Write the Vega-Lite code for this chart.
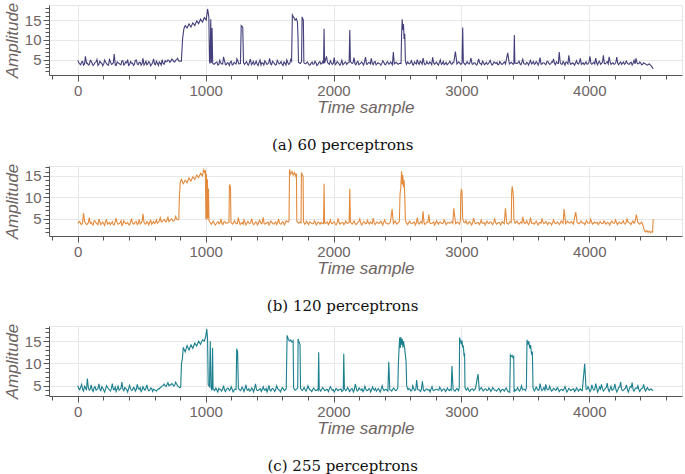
{
"$schema": "https://vega.github.io/schema/vega-lite/v6.json",
"padding": {"left": 2, "top": 0, "right": 1, "bottom": 0},
"spacing": 5,
"config": {
 "view": {"stroke": "#e6e6e6", "strokeWidth": 1},
 "axis": {"labelFont": "Liberation Sans", "labelFontSize": 15, "labelColor": "#6e6464", "titleFont": "Liberation Sans", "titleFontStyle": "italic", "titleFontWeight": "normal", "titleColor": "#6e6464", "domainColor": "#555555", "tickColor": "#555555", "gridColor": "#e8e8e8", "labelPadding": 2, "labelOverlap": false, "labelFlush": false, "domainWidth": 1, "tickWidth": 1},
 "axisX": {"titleFontSize": 17, "titlePadding": 1},
 "axisY": {"titleFontSize": 17, "titlePadding": 3},
 "title": {"orient": "bottom", "font": "DejaVu Serif", "fontSize": 15, "fontWeight": "normal", "color": "#111111", "offset": 23, "anchor": "middle", "frame": "bounds"}
},
"datasets": {
"a": [
{"t":0,"v":4.8},{"t":15,"v":3.9},{"t":30,"v":4.4},{"t":45,"v":3.6},{"t":60,"v":5.8},{"t":75,"v":4.1},{"t":90,"v":3.7},{"t":105,"v":4.6},{"t":120,"v":3.5},{"t":135,"v":4.3},
{"t":150,"v":5.0},{"t":165,"v":3.8},{"t":180,"v":4.2},{"t":195,"v":3.4},{"t":210,"v":4.9},{"t":225,"v":4.0},{"t":240,"v":3.6},{"t":255,"v":4.5},{"t":270,"v":3.9},{"t":285,"v":6.4},
{"t":300,"v":3.5},{"t":315,"v":4.2},{"t":330,"v":3.8},{"t":345,"v":4.7},{"t":360,"v":3.6},{"t":375,"v":4.4},{"t":390,"v":5.0},{"t":405,"v":3.7},{"t":420,"v":4.1},{"t":435,"v":3.5},
{"t":450,"v":4.8},{"t":465,"v":3.9},{"t":480,"v":4.3},{"t":495,"v":3.6},{"t":510,"v":5.3},{"t":525,"v":4.0},{"t":540,"v":3.7},{"t":555,"v":4.5},{"t":570,"v":3.4},{"t":585,"v":4.2},
{"t":600,"v":3.9},{"t":615,"v":4.6},{"t":630,"v":3.5},{"t":645,"v":4.1},{"t":660,"v":5.0},{"t":675,"v":3.8},{"t":690,"v":4.4},{"t":705,"v":4.9},{"t":720,"v":4.3},{"t":735,"v":5.1},
{"t":750,"v":4.5},{"t":765,"v":4.8},{"t":780,"v":5.3},{"t":795,"v":4.6},
{"t":810,"v":4.6},{"t":820,"v":10.4},{"t":830,"v":12.8},{"t":840,"v":13.6},{"t":855,"v":13.0},{"t":870,"v":14.0},{"t":885,"v":13.2},{"t":900,"v":14.3},{"t":915,"v":13.6},{"t":930,"v":14.8},{"t":945,"v":14.1},{"t":960,"v":15.2},{"t":975,"v":14.5},{"t":990,"v":15.6},{"t":1005,"v":15.0},{"t":1015,"v":17.8},{"t":1025,"v":15.8},{"t":1030,"v":4.5},{"t":1035,"v":4.0},{"t":1040,"v":15.2},{"t":1045,"v":4.2},{"t":1050,"v":13.0},{"t":1055,"v":4.1},{"t":1065,"v":3.8},
{"t":1080,"v":4.3},{"t":1095,"v":3.6},{"t":1110,"v":4.8},{"t":1125,"v":3.9},{"t":1140,"v":5.7},{"t":1155,"v":3.7},{"t":1170,"v":4.2},{"t":1185,"v":3.5},{"t":1200,"v":4.6},{"t":1215,"v":3.8},{"t":1230,"v":4.1},{"t":1245,"v":5.2},{"t":1260,"v":3.9},
{"t":1272,"v":4.0},{"t":1278,"v":13.6},{"t":1290,"v":13.2},{"t":1296,"v":4.2},
{"t":1305,"v":3.8},{"t":1320,"v":4.5},{"t":1335,"v":3.6},{"t":1350,"v":5.1},{"t":1365,"v":4.0},{"t":1380,"v":3.7},{"t":1395,"v":4.6},{"t":1410,"v":3.5},{"t":1425,"v":4.9},{"t":1440,"v":4.2},{"t":1455,"v":3.6},{"t":1470,"v":4.4},{"t":1485,"v":3.9},{"t":1500,"v":5.3},{"t":1515,"v":3.7},{"t":1530,"v":4.3},{"t":1545,"v":3.6},{"t":1560,"v":4.8},{"t":1575,"v":3.9},{"t":1590,"v":4.5},{"t":1605,"v":3.5},{"t":1620,"v":4.1},{"t":1635,"v":4.9},{"t":1650,"v":3.8},{"t":1665,"v":5.0},
{"t":1672,"v":4.6},{"t":1678,"v":16.3},{"t":1690,"v":15.6},{"t":1700,"v":15.0},{"t":1710,"v":15.3},{"t":1718,"v":14.4},{"t":1722,"v":10.8},{"t":1726,"v":4.3},{"t":1740,"v":4.0},{"t":1750,"v":4.5},{"t":1754,"v":15.8},{"t":1764,"v":15.0},{"t":1768,"v":4.2},{"t":1780,"v":3.9},
{"t":1795,"v":4.4},{"t":1810,"v":3.6},{"t":1825,"v":4.1},{"t":1840,"v":3.8},{"t":1855,"v":4.6},{"t":1870,"v":3.5},{"t":1885,"v":4.2},{"t":1900,"v":3.9},{"t":1915,"v":4.5},
{"t":1922,"v":4.0},{"t":1926,"v":12.8},{"t":1930,"v":4.1},
{"t":1945,"v":5.8},{"t":1960,"v":4.0},{"t":1975,"v":4.7},{"t":1990,"v":3.8},{"t":2005,"v":5.5},{"t":2020,"v":3.9},{"t":2035,"v":4.3},{"t":2050,"v":3.6},{"t":2065,"v":4.8},{"t":2080,"v":3.9},{"t":2095,"v":4.4},{"t":2110,"v":4.1},
{"t":2122,"v":4.3},{"t":2127,"v":12.5},{"t":2132,"v":4.5},
{"t":2145,"v":4.0},{"t":2160,"v":5.5},{"t":2175,"v":3.7},{"t":2190,"v":4.6},{"t":2205,"v":3.9},{"t":2220,"v":4.4},{"t":2235,"v":3.6},{"t":2250,"v":5.6},{"t":2265,"v":3.8},{"t":2280,"v":4.2},{"t":2295,"v":5.3},{"t":2310,"v":3.7},{"t":2325,"v":4.5},{"t":2340,"v":3.9},{"t":2355,"v":4.1},{"t":2370,"v":3.6},{"t":2385,"v":4.7},{"t":2400,"v":3.8},{"t":2415,"v":4.3},{"t":2430,"v":3.9},{"t":2445,"v":4.4},{"t":2460,"v":3.7},
{"t":2468,"v":6.9},{"t":2475,"v":3.9},{"t":2490,"v":4.3},{"t":2505,"v":3.8},{"t":2520,"v":4.1},
{"t":2528,"v":4.0},{"t":2532,"v":11.0},{"t":2537,"v":15.2},{"t":2542,"v":12.5},{"t":2547,"v":14.0},{"t":2552,"v":10.2},{"t":2557,"v":11.5},{"t":2562,"v":4.6},{"t":2570,"v":3.8},
{"t":2580,"v":4.4},{"t":2595,"v":3.9},{"t":2610,"v":4.7},{"t":2625,"v":3.6},{"t":2640,"v":4.1},{"t":2655,"v":5.0},{"t":2670,"v":3.8},{"t":2685,"v":4.3},{"t":2700,"v":5.4},{"t":2715,"v":3.7},{"t":2730,"v":4.5},{"t":2745,"v":3.9},{"t":2760,"v":4.2},{"t":2775,"v":5.6},{"t":2790,"v":3.8},{"t":2805,"v":4.4},{"t":2820,"v":3.6},{"t":2835,"v":4.9},{"t":2850,"v":4.0},{"t":2865,"v":3.7},{"t":2880,"v":4.3},{"t":2895,"v":3.9},{"t":2910,"v":4.6},{"t":2925,"v":3.8},{"t":2940,"v":4.2},
{"t":2953,"v":7.0},{"t":2965,"v":3.9},{"t":2980,"v":4.4},{"t":2995,"v":3.8},
{"t":3005,"v":4.1},{"t":3010,"v":13.1},{"t":3015,"v":4.3},
{"t":3030,"v":3.7},{"t":3045,"v":4.5},{"t":3060,"v":3.9},{"t":3075,"v":5.4},{"t":3090,"v":3.8},{"t":3105,"v":4.2},{"t":3120,"v":3.6},{"t":3135,"v":5.2},{"t":3150,"v":4.0},{"t":3165,"v":4.6},{"t":3180,"v":3.7},{"t":3195,"v":4.3},{"t":3210,"v":3.9},{"t":3225,"v":4.8},{"t":3240,"v":3.6},{"t":3255,"v":4.4},{"t":3270,"v":4.0},{"t":3285,"v":3.7},{"t":3300,"v":4.5},{"t":3315,"v":3.8},{"t":3330,"v":4.2},{"t":3345,"v":3.9},
{"t":3362,"v":6.7},{"t":3375,"v":3.9},{"t":3390,"v":4.3},{"t":3405,"v":3.8},{"t":3410,"v":4.0},{"t":3414,"v":11.2},{"t":3418,"v":4.2},
{"t":3435,"v":4.0},{"t":3450,"v":4.6},{"t":3465,"v":3.7},{"t":3480,"v":5.1},{"t":3495,"v":3.9},{"t":3510,"v":4.3},{"t":3525,"v":3.6},{"t":3540,"v":4.8},{"t":3555,"v":4.1},{"t":3570,"v":3.8},
{"t":3585,"v":4.5},{"t":3600,"v":3.6},{"t":3615,"v":5.5},{"t":3630,"v":3.9},{"t":3645,"v":4.2},{"t":3660,"v":3.7},{"t":3675,"v":4.6},{"t":3690,"v":3.8},{"t":3705,"v":4.4},{"t":3720,"v":5.2},
{"t":3735,"v":3.7},{"t":3750,"v":4.1},{"t":3765,"v":6.9},{"t":3780,"v":3.9},{"t":3795,"v":4.5},{"t":3810,"v":3.6},{"t":3825,"v":4.3},{"t":3840,"v":6.1},{"t":3855,"v":3.8},{"t":3870,"v":4.2},
{"t":3885,"v":3.6},{"t":3900,"v":4.7},{"t":3915,"v":3.9},{"t":3930,"v":5.3},{"t":3945,"v":4.0},{"t":3960,"v":3.7},{"t":3975,"v":4.4},{"t":3990,"v":3.9},{"t":4005,"v":5.8},{"t":4020,"v":3.8},
{"t":4035,"v":4.3},{"t":4050,"v":5.4},{"t":4065,"v":3.7},{"t":4080,"v":4.6},{"t":4095,"v":4.0},{"t":4110,"v":6.1},{"t":4125,"v":3.9},{"t":4140,"v":4.5},{"t":4155,"v":5.7},{"t":4170,"v":3.8},
{"t":4185,"v":4.2},{"t":4200,"v":3.9},{"t":4215,"v":5.6},{"t":4230,"v":3.7},{"t":4245,"v":4.4},{"t":4260,"v":4.1},{"t":4275,"v":3.8},{"t":4290,"v":4.6},{"t":4305,"v":3.9},{"t":4320,"v":4.2},
{"t":4335,"v":3.6},{"t":4350,"v":4.8},{"t":4365,"v":5.3},{"t":4380,"v":3.9},{"t":4395,"v":4.4},{"t":4410,"v":3.7},{"t":4425,"v":4.2},{"t":4440,"v":3.9},{"t":4455,"v":3.6},{"t":4470,"v":3.9},
{"t":4485,"v":3.4},{"t":4500,"v":2.6},
{"t":8,"v":4.2},{"t":23,"v":3.7},{"t":38,"v":4.5},{"t":53,"v":3.9},{"t":68,"v":4.1},{"t":83,"v":3.6},{"t":98,"v":4.8},{"t":113,"v":4.0},{"t":128,"v":3.8},{"t":143,"v":4.4},
{"t":158,"v":3.5},{"t":173,"v":4.6},{"t":188,"v":4.1},{"t":203,"v":3.9},{"t":218,"v":4.3},{"t":233,"v":3.7},{"t":248,"v":5.0},{"t":263,"v":3.8},{"t":278,"v":4.2},{"t":293,"v":3.6},
{"t":308,"v":4.4},{"t":323,"v":4.0},{"t":338,"v":3.7},{"t":353,"v":4.7},{"t":368,"v":3.9},{"t":383,"v":4.2},{"t":398,"v":3.5},{"t":413,"v":4.5},{"t":428,"v":4.1},{"t":443,"v":3.8},
{"t":458,"v":4.9},{"t":473,"v":3.7},{"t":488,"v":4.3},{"t":503,"v":4.0},{"t":518,"v":3.6},{"t":533,"v":4.6},{"t":548,"v":3.9},{"t":563,"v":4.2},{"t":578,"v":3.8},{"t":593,"v":5.2},
{"t":608,"v":3.7},{"t":623,"v":4.1},{"t":638,"v":4.4},{"t":653,"v":3.6},{"t":668,"v":4.0},{"t":683,"v":4.7},{"t":698,"v":4.5},{"t":713,"v":4.8},{"t":728,"v":4.6},{"t":743,"v":4.9},
{"t":758,"v":4.4},{"t":773,"v":5.0},{"t":788,"v":4.7},
{"t":1073,"v":4.0},{"t":1088,"v":4.4},{"t":1103,"v":3.7},{"t":1118,"v":4.2},{"t":1133,"v":3.9},{"t":1148,"v":4.6},{"t":1163,"v":3.8},{"t":1178,"v":4.1},{"t":1193,"v":4.4},{"t":1208,"v":3.6},{"t":1223,"v":4.3},{"t":1238,"v":3.9},{"t":1253,"v":4.5},
{"t":1313,"v":4.2},{"t":1328,"v":3.8},{"t":1343,"v":4.4},{"t":1358,"v":3.7},{"t":1373,"v":4.5},{"t":1388,"v":4.0},{"t":1403,"v":3.9},{"t":1418,"v":4.3},{"t":1433,"v":3.6},{"t":1448,"v":4.1},{"t":1463,"v":4.7},{"t":1478,"v":3.8},{"t":1493,"v":4.2},{"t":1508,"v":3.9},{"t":1523,"v":4.6},{"t":1538,"v":4.0},{"t":1553,"v":3.7},{"t":1568,"v":4.3},{"t":1583,"v":4.1},{"t":1598,"v":3.8},{"t":1613,"v":4.4},{"t":1628,"v":3.6},{"t":1643,"v":4.2},{"t":1658,"v":4.0},
{"t":1788,"v":4.1},{"t":1803,"v":4.0},{"t":1818,"v":3.7},{"t":1833,"v":4.4},{"t":1848,"v":3.9},{"t":1863,"v":4.2},{"t":1878,"v":3.8},{"t":1893,"v":4.5},{"t":1908,"v":4.0},
{"t":1953,"v":4.3},{"t":1968,"v":3.8},{"t":1983,"v":4.2},{"t":1998,"v":4.0},{"t":2013,"v":3.7},{"t":2028,"v":4.5},{"t":2043,"v":3.9},{"t":2058,"v":4.1},{"t":2073,"v":3.7},{"t":2088,"v":4.3},{"t":2103,"v":3.8},
{"t":2153,"v":4.2},{"t":2168,"v":3.9},{"t":2183,"v":4.4},{"t":2198,"v":3.7},{"t":2213,"v":4.1},{"t":2228,"v":4.0},{"t":2243,"v":4.5},{"t":2258,"v":3.8},{"t":2273,"v":4.3},{"t":2288,"v":3.9},{"t":2303,"v":4.0},{"t":2318,"v":4.4},{"t":2333,"v":3.7},{"t":2348,"v":4.2},{"t":2363,"v":3.9},{"t":2378,"v":4.1},{"t":2393,"v":4.3},{"t":2408,"v":3.7},{"t":2423,"v":4.5},{"t":2438,"v":3.9},{"t":2453,"v":4.1},
{"t":2588,"v":4.0},{"t":2603,"v":4.3},{"t":2618,"v":3.8},{"t":2633,"v":4.4},{"t":2648,"v":3.9},{"t":2663,"v":4.1},{"t":2678,"v":4.6},{"t":2693,"v":3.8},{"t":2708,"v":4.2},{"t":2723,"v":3.9},{"t":2738,"v":4.0},{"t":2753,"v":4.4},{"t":2768,"v":3.7},{"t":2783,"v":4.2},{"t":2798,"v":4.1},{"t":2813,"v":3.9},{"t":2828,"v":4.3},{"t":2843,"v":3.8},{"t":2858,"v":4.5},{"t":2873,"v":4.0},{"t":2888,"v":3.7},{"t":2903,"v":4.2},{"t":2918,"v":4.0},{"t":2933,"v":4.3},
{"t":3038,"v":4.1},{"t":3053,"v":4.0},{"t":3068,"v":4.4},{"t":3083,"v":3.9},{"t":3098,"v":4.2},{"t":3113,"v":3.8},{"t":3128,"v":4.3},{"t":3143,"v":4.1},{"t":3158,"v":3.7},{"t":3173,"v":4.2},{"t":3188,"v":4.0},{"t":3203,"v":3.8},{"t":3218,"v":4.4},{"t":3233,"v":4.0},{"t":3248,"v":3.9},{"t":3263,"v":4.2},{"t":3278,"v":4.3},{"t":3293,"v":3.8},{"t":3308,"v":4.1},{"t":3323,"v":3.9},{"t":3338,"v":4.4},
{"t":3443,"v":4.2},{"t":3458,"v":3.9},{"t":3473,"v":4.4},{"t":3488,"v":4.0},{"t":3503,"v":3.8},{"t":3518,"v":4.1},{"t":3533,"v":4.3},{"t":3548,"v":3.9},{"t":3563,"v":4.5},{"t":3578,"v":4.0},
{"t":3593,"v":4.1},{"t":3608,"v":4.3},{"t":3623,"v":3.8},{"t":3638,"v":4.2},{"t":3653,"v":3.9},{"t":3668,"v":4.5},{"t":3683,"v":4.1},{"t":3698,"v":3.9},{"t":3713,"v":4.3},{"t":3728,"v":4.0},
{"t":3743,"v":4.4},{"t":3758,"v":4.0},{"t":3773,"v":4.2},{"t":3788,"v":3.8},{"t":3803,"v":4.1},{"t":3818,"v":4.4},{"t":3833,"v":3.9},{"t":3848,"v":4.3},{"t":3863,"v":4.0},{"t":3878,"v":3.9},
{"t":3893,"v":4.2},{"t":3908,"v":4.0},{"t":3923,"v":4.4},{"t":3938,"v":3.8},{"t":3953,"v":4.2},{"t":3968,"v":4.1},{"t":3983,"v":3.8},{"t":3998,"v":4.4},{"t":4013,"v":4.0},{"t":4028,"v":4.1},
{"t":4043,"v":3.9},{"t":4058,"v":4.2},{"t":4073,"v":4.4},{"t":4088,"v":3.8},{"t":4103,"v":4.3},{"t":4118,"v":4.0},{"t":4133,"v":4.2},{"t":4148,"v":3.9},{"t":4163,"v":4.4},{"t":4178,"v":4.1},
{"t":4193,"v":3.8},{"t":4208,"v":4.3},{"t":4223,"v":4.0},{"t":4238,"v":4.2},{"t":4253,"v":3.8},{"t":4268,"v":4.4},{"t":4283,"v":4.0},{"t":4298,"v":4.1},{"t":4313,"v":3.8},{"t":4328,"v":4.3},
{"t":4343,"v":4.1},{"t":4358,"v":3.9},{"t":4373,"v":4.2},{"t":4388,"v":4.0},{"t":4403,"v":4.1},{"t":4418,"v":3.8},{"t":4433,"v":4.0},{"t":4448,"v":3.7},{"t":4463,"v":3.8},{"t":4478,"v":3.6}
],
"b": [
{"t":0,"v":4.0},{"t":15,"v":4.4},{"t":30,"v":3.7},{"t":45,"v":6.4},{"t":60,"v":4.1},{"t":75,"v":3.8},{"t":90,"v":5.3},{"t":105,"v":4.2},{"t":120,"v":3.6},{"t":135,"v":4.5},
{"t":150,"v":3.9},{"t":165,"v":5.0},{"t":180,"v":3.7},{"t":195,"v":4.3},{"t":210,"v":3.5},{"t":225,"v":4.8},{"t":240,"v":4.0},{"t":255,"v":3.7},{"t":270,"v":4.4},{"t":285,"v":3.6},
{"t":300,"v":5.2},{"t":315,"v":3.8},{"t":330,"v":4.1},{"t":345,"v":3.5},{"t":360,"v":4.6},{"t":375,"v":3.9},{"t":390,"v":4.2},{"t":405,"v":3.6},{"t":420,"v":5.1},{"t":435,"v":3.8},
{"t":450,"v":4.3},{"t":465,"v":3.7},{"t":480,"v":4.9},{"t":495,"v":4.0},{"t":510,"v":6.2},{"t":525,"v":3.8},{"t":540,"v":4.4},{"t":555,"v":3.6},{"t":570,"v":4.7},{"t":585,"v":4.1},
{"t":600,"v":3.9},{"t":615,"v":4.8},{"t":630,"v":4.2},{"t":645,"v":5.3},{"t":660,"v":4.4},{"t":675,"v":4.9},{"t":690,"v":4.3},{"t":705,"v":5.4},{"t":720,"v":4.6},{"t":735,"v":5.0},
{"t":750,"v":4.5},{"t":765,"v":5.6},{"t":780,"v":4.8},
{"t":790,"v":4.9},{"t":795,"v":10.5},{"t":802,"v":13.6},{"t":810,"v":14.2},{"t":825,"v":13.2},{"t":840,"v":14.0},{"t":855,"v":13.4},{"t":870,"v":14.5},{"t":885,"v":13.8},{"t":900,"v":14.8},{"t":915,"v":14.2},{"t":930,"v":15.2},{"t":945,"v":14.6},{"t":960,"v":15.6},{"t":975,"v":15.0},{"t":985,"v":16.4},{"t":992,"v":15.8},{"t":998,"v":16.3},{"t":1002,"v":5.0},{"t":1006,"v":15.5},{"t":1010,"v":4.8},{"t":1014,"v":14.2},{"t":1018,"v":5.2},{"t":1022,"v":12.0},{"t":1026,"v":4.6},{"t":1032,"v":4.3},{"t":1045,"v":3.8},
{"t":1060,"v":4.5},{"t":1075,"v":3.6},{"t":1090,"v":4.2},{"t":1105,"v":3.9},{"t":1120,"v":5.0},{"t":1135,"v":3.7},{"t":1150,"v":4.4},{"t":1165,"v":4.0},
{"t":1182,"v":4.2},{"t":1186,"v":13.0},{"t":1194,"v":12.4},{"t":1198,"v":4.3},
{"t":1210,"v":3.8},{"t":1225,"v":4.6},{"t":1240,"v":3.9},{"t":1255,"v":5.3},{"t":1270,"v":3.7},{"t":1285,"v":4.2},{"t":1300,"v":4.8},{"t":1315,"v":3.6},{"t":1330,"v":4.4},{"t":1345,"v":3.9},
{"t":1360,"v":5.1},{"t":1375,"v":3.7},{"t":1390,"v":4.3},{"t":1405,"v":3.6},{"t":1420,"v":4.7},{"t":1435,"v":3.9},{"t":1450,"v":5.4},{"t":1465,"v":3.8},{"t":1480,"v":4.2},{"t":1495,"v":3.6},
{"t":1510,"v":4.5},{"t":1525,"v":3.9},{"t":1540,"v":4.1},{"t":1555,"v":3.7},{"t":1570,"v":5.0},{"t":1585,"v":3.8},{"t":1600,"v":4.4},{"t":1615,"v":3.6},{"t":1630,"v":4.6},{"t":1645,"v":4.3},
{"t":1652,"v":4.5},{"t":1656,"v":16.5},{"t":1665,"v":15.4},{"t":1675,"v":16.0},{"t":1685,"v":15.2},{"t":1695,"v":15.8},{"t":1705,"v":14.9},{"t":1710,"v":15.5},{"t":1713,"v":4.5},{"t":1725,"v":4.0},{"t":1738,"v":4.3},{"t":1746,"v":4.1},{"t":1749,"v":15.8},{"t":1756,"v":15.2},{"t":1762,"v":15.0},{"t":1765,"v":4.4},{"t":1775,"v":3.8},
{"t":1790,"v":4.5},{"t":1805,"v":3.7},{"t":1820,"v":4.2},{"t":1835,"v":3.9},{"t":1850,"v":4.6},{"t":1865,"v":3.6},{"t":1880,"v":4.3},{"t":1895,"v":3.8},{"t":1910,"v":4.0},
{"t":1922,"v":3.9},{"t":1926,"v":13.2},{"t":1930,"v":4.2},
{"t":1945,"v":4.1},{"t":1960,"v":3.7},{"t":1975,"v":4.8},{"t":1990,"v":3.9},{"t":2005,"v":4.4},{"t":2020,"v":3.6},{"t":2035,"v":5.0},{"t":2050,"v":3.8},{"t":2065,"v":4.2},{"t":2080,"v":3.7},{"t":2095,"v":4.5},{"t":2110,"v":4.0},
{"t":2122,"v":4.2},{"t":2127,"v":12.0},{"t":2132,"v":4.4},
{"t":2145,"v":3.8},{"t":2160,"v":4.6},{"t":2175,"v":3.7},{"t":2190,"v":4.2},{"t":2205,"v":5.0},{"t":2220,"v":3.6},{"t":2235,"v":4.4},{"t":2250,"v":3.9},{"t":2265,"v":4.7},{"t":2280,"v":3.8},{"t":2295,"v":4.1},{"t":2310,"v":5.2},{"t":2325,"v":3.7},{"t":2340,"v":4.3},{"t":2355,"v":3.9},{"t":2370,"v":4.5},{"t":2385,"v":3.6},{"t":2400,"v":4.8},{"t":2415,"v":4.0},{"t":2430,"v":3.8},{"t":2445,"v":4.3},
{"t":2458,"v":7.3},{"t":2468,"v":3.9},{"t":2482,"v":4.5},{"t":2495,"v":3.8},{"t":2508,"v":4.2},
{"t":2515,"v":4.4},{"t":2520,"v":10.8},{"t":2526,"v":12.2},{"t":2532,"v":16.1},{"t":2537,"v":13.0},{"t":2542,"v":15.2},{"t":2547,"v":12.4},{"t":2552,"v":14.0},{"t":2557,"v":10.5},{"t":2562,"v":4.8},{"t":2570,"v":4.1},
{"t":2580,"v":3.7},{"t":2595,"v":4.5},{"t":2610,"v":3.9},{"t":2625,"v":4.2},{"t":2640,"v":3.6},{"t":2655,"v":5.3},{"t":2670,"v":3.8},{"t":2685,"v":4.4},{"t":2700,"v":6.8},{"t":2715,"v":3.7},{"t":2730,"v":4.3},{"t":2745,"v":6.0},{"t":2760,"v":3.9},{"t":2775,"v":4.1},{"t":2790,"v":3.6},{"t":2805,"v":4.6},{"t":2820,"v":3.8},{"t":2835,"v":4.3},{"t":2850,"v":3.9},{"t":2865,"v":4.8},{"t":2880,"v":3.7},{"t":2895,"v":4.2},{"t":2910,"v":4.0},{"t":2925,"v":4.4},
{"t":2940,"v":7.5},{"t":2955,"v":3.9},{"t":2970,"v":4.3},{"t":2985,"v":3.8},
{"t":2992,"v":4.6},{"t":2995,"v":10.5},{"t":3000,"v":12.0},{"t":3005,"v":11.2},{"t":3010,"v":5.0},{"t":3020,"v":4.2},
{"t":3035,"v":4.6},{"t":3050,"v":3.8},{"t":3065,"v":4.4},{"t":3080,"v":3.6},{"t":3095,"v":5.2},{"t":3110,"v":3.9},{"t":3125,"v":4.2},{"t":3140,"v":3.7},{"t":3155,"v":4.8},{"t":3170,"v":4.0},{"t":3185,"v":3.6},{"t":3200,"v":4.5},{"t":3215,"v":3.9},{"t":3230,"v":4.3},{"t":3245,"v":3.7},{"t":3260,"v":5.0},{"t":3275,"v":3.8},{"t":3290,"v":4.2},{"t":3305,"v":3.6},{"t":3320,"v":4.4},{"t":3335,"v":3.9},
{"t":3344,"v":7.5},{"t":3355,"v":4.1},{"t":3368,"v":3.8},{"t":3380,"v":4.4},
{"t":3390,"v":4.2},{"t":3393,"v":11.0},{"t":3397,"v":12.6},{"t":3402,"v":11.5},{"t":3407,"v":10.0},{"t":3411,"v":4.8},{"t":3420,"v":4.0},
{"t":3435,"v":4.5},{"t":3450,"v":3.8},{"t":3465,"v":4.3},{"t":3480,"v":5.5},{"t":3495,"v":3.9},{"t":3510,"v":4.6},{"t":3525,"v":3.7},{"t":3540,"v":5.3},{"t":3555,"v":4.0},{"t":3570,"v":3.8},{"t":3585,"v":4.5},{"t":3600,"v":3.6},{"t":3615,"v":4.2},{"t":3630,"v":5.0},{"t":3645,"v":3.9},{"t":3660,"v":4.4},{"t":3675,"v":3.7},{"t":3690,"v":4.1},{"t":3705,"v":3.6},{"t":3720,"v":4.8},{"t":3735,"v":3.9},{"t":3750,"v":4.3},{"t":3765,"v":3.7},{"t":3780,"v":4.5},{"t":3795,"v":4.0},
{"t":3803,"v":7.3},{"t":3815,"v":3.9},{"t":3830,"v":4.5},{"t":3845,"v":4.0},{"t":3860,"v":4.4},{"t":3875,"v":3.8},{"t":3894,"v":6.6},{"t":3905,"v":4.2},
{"t":3920,"v":3.9},{"t":3935,"v":4.5},{"t":3950,"v":4.1},{"t":3965,"v":3.7},{"t":3980,"v":4.6},{"t":3995,"v":4.0},{"t":4010,"v":5.0},{"t":4025,"v":3.8},{"t":4040,"v":4.3},{"t":4055,"v":4.1},
{"t":4070,"v":3.7},{"t":4085,"v":4.4},{"t":4100,"v":3.9},{"t":4115,"v":4.6},{"t":4130,"v":3.8},{"t":4145,"v":4.2},{"t":4160,"v":3.6},{"t":4175,"v":4.5},{"t":4190,"v":4.0},{"t":4205,"v":4.8},
{"t":4220,"v":3.7},{"t":4235,"v":4.3},{"t":4250,"v":3.9},{"t":4265,"v":4.6},{"t":4280,"v":3.8},{"t":4295,"v":5.0},{"t":4310,"v":4.2},{"t":4325,"v":3.7},{"t":4340,"v":4.5},{"t":4355,"v":4.1},
{"t":4368,"v":6.0},{"t":4380,"v":4.2},{"t":4395,"v":3.8},{"t":4410,"v":4.3},{"t":4420,"v":3.5},{"t":4430,"v":2.4},{"t":4440,"v":2.0},{"t":4450,"v":2.3},{"t":4460,"v":1.9},{"t":4470,"v":2.2},{"t":4480,"v":1.8},{"t":4490,"v":2.1},{"t":4495,"v":2.0},{"t":4500,"v":5.0},
{"t":8,"v":4.3},{"t":23,"v":3.9},{"t":38,"v":4.1},{"t":53,"v":4.4},{"t":68,"v":3.7},{"t":83,"v":4.2},{"t":98,"v":4.0},{"t":113,"v":3.8},{"t":128,"v":4.6},{"t":143,"v":4.1},
{"t":158,"v":3.7},{"t":173,"v":4.3},{"t":188,"v":4.0},{"t":203,"v":3.9},{"t":218,"v":4.5},{"t":233,"v":3.8},{"t":248,"v":4.2},{"t":263,"v":4.0},{"t":278,"v":3.7},{"t":293,"v":4.4},
{"t":308,"v":4.1},{"t":323,"v":3.9},{"t":338,"v":4.6},{"t":353,"v":3.8},{"t":368,"v":4.2},{"t":383,"v":4.0},{"t":398,"v":3.7},{"t":413,"v":4.3},{"t":428,"v":4.1},{"t":443,"v":3.9},
{"t":458,"v":4.4},{"t":473,"v":4.0},{"t":488,"v":3.8},{"t":503,"v":4.5},{"t":518,"v":4.2},{"t":533,"v":3.9},{"t":548,"v":4.1},{"t":563,"v":4.3},{"t":578,"v":3.8},{"t":593,"v":4.4},
{"t":608,"v":4.2},{"t":623,"v":4.0},{"t":638,"v":4.6},{"t":653,"v":4.3},{"t":668,"v":4.7},{"t":683,"v":4.5},{"t":698,"v":4.8},{"t":713,"v":4.4},{"t":728,"v":4.9},{"t":743,"v":4.6},
{"t":758,"v":4.8},{"t":773,"v":5.0},
{"t":1053,"v":4.2},{"t":1068,"v":4.0},{"t":1083,"v":3.9},{"t":1098,"v":4.4},{"t":1113,"v":4.1},{"t":1128,"v":3.9},{"t":1143,"v":4.3},{"t":1158,"v":4.0},{"t":1173,"v":4.1},
{"t":1203,"v":4.0},{"t":1218,"v":4.2},{"t":1233,"v":4.1},{"t":1248,"v":3.9},{"t":1263,"v":4.4},{"t":1278,"v":4.0},{"t":1293,"v":3.8},{"t":1308,"v":4.2},{"t":1323,"v":4.0},{"t":1338,"v":4.1},
{"t":1353,"v":4.3},{"t":1368,"v":4.0},{"t":1383,"v":3.9},{"t":1398,"v":4.2},{"t":1413,"v":4.0},{"t":1428,"v":4.4},{"t":1443,"v":4.1},{"t":1458,"v":3.9},{"t":1473,"v":4.0},{"t":1488,"v":4.3},
{"t":1503,"v":4.0},{"t":1518,"v":4.2},{"t":1533,"v":3.8},{"t":1548,"v":4.3},{"t":1563,"v":4.1},{"t":1578,"v":4.0},{"t":1593,"v":3.9},{"t":1608,"v":4.2},{"t":1623,"v":4.0},{"t":1638,"v":4.4},
{"t":1783,"v":4.1},{"t":1798,"v":4.0},{"t":1813,"v":4.3},{"t":1828,"v":4.0},{"t":1843,"v":3.9},{"t":1858,"v":4.2},{"t":1873,"v":4.0},{"t":1888,"v":4.1},{"t":1903,"v":4.2},
{"t":1938,"v":4.0},{"t":1953,"v":4.3},{"t":1968,"v":4.1},{"t":1983,"v":4.0},{"t":1998,"v":4.2},{"t":2013,"v":3.9},{"t":2028,"v":4.1},{"t":2043,"v":4.3},{"t":2058,"v":4.0},{"t":2073,"v":4.2},{"t":2088,"v":3.9},{"t":2103,"v":4.1},
{"t":2138,"v":4.0},{"t":2153,"v":4.2},{"t":2168,"v":4.0},{"t":2183,"v":3.9},{"t":2198,"v":4.4},{"t":2213,"v":4.1},{"t":2228,"v":4.0},{"t":2243,"v":4.2},{"t":2258,"v":4.0},{"t":2273,"v":4.1},{"t":2288,"v":4.3},{"t":2303,"v":3.9},{"t":2318,"v":4.2},{"t":2333,"v":4.0},{"t":2348,"v":4.1},{"t":2363,"v":4.2},{"t":2378,"v":4.0},{"t":2393,"v":4.3},{"t":2408,"v":4.1},{"t":2423,"v":3.9},{"t":2438,"v":4.1},
{"t":2573,"v":4.0},{"t":2588,"v":4.2},{"t":2603,"v":4.1},{"t":2618,"v":4.0},{"t":2633,"v":4.3},{"t":2648,"v":4.1},{"t":2663,"v":4.0},{"t":2678,"v":4.2},{"t":2693,"v":4.0},{"t":2708,"v":4.1},{"t":2723,"v":4.0},{"t":2738,"v":4.2},{"t":2753,"v":4.1},{"t":2768,"v":4.0},{"t":2783,"v":4.3},{"t":2798,"v":4.0},{"t":2813,"v":4.1},{"t":2828,"v":4.2},{"t":2843,"v":4.0},{"t":2858,"v":4.1},{"t":2873,"v":4.3},{"t":2888,"v":4.0},{"t":2903,"v":4.1},{"t":2918,"v":4.2},{"t":2933,"v":4.0},
{"t":3028,"v":4.1},{"t":3043,"v":4.0},{"t":3058,"v":4.2},{"t":3073,"v":4.0},{"t":3088,"v":4.1},{"t":3103,"v":4.3},{"t":3118,"v":4.0},{"t":3133,"v":4.2},{"t":3148,"v":4.1},{"t":3163,"v":4.0},{"t":3178,"v":4.2},{"t":3193,"v":4.0},{"t":3208,"v":4.1},{"t":3223,"v":4.3},{"t":3238,"v":4.0},{"t":3253,"v":4.2},{"t":3268,"v":4.1},{"t":3283,"v":4.0},{"t":3298,"v":4.2},{"t":3313,"v":4.0},{"t":3328,"v":4.1},
{"t":3428,"v":4.2},{"t":3443,"v":4.0},{"t":3458,"v":4.1},{"t":3473,"v":4.0},{"t":3488,"v":4.3},{"t":3503,"v":4.1},{"t":3518,"v":4.0},{"t":3533,"v":4.2},{"t":3548,"v":4.0},{"t":3563,"v":4.1},{"t":3578,"v":4.2},{"t":3593,"v":4.0},{"t":3608,"v":4.1},{"t":3623,"v":4.0},{"t":3638,"v":4.3},{"t":3653,"v":4.1},{"t":3668,"v":4.0},{"t":3683,"v":4.2},{"t":3698,"v":4.0},{"t":3713,"v":4.1},{"t":3728,"v":4.2},{"t":3743,"v":4.0},{"t":3758,"v":4.1},{"t":3773,"v":4.0},{"t":3788,"v":4.2},
{"t":3913,"v":4.0},{"t":3928,"v":4.2},{"t":3943,"v":4.1},{"t":3958,"v":4.0},{"t":3973,"v":4.2},{"t":3988,"v":4.1},{"t":4003,"v":4.0},{"t":4018,"v":4.3},{"t":4033,"v":4.0},{"t":4048,"v":4.1},
{"t":4063,"v":4.2},{"t":4078,"v":4.0},{"t":4093,"v":4.1},{"t":4108,"v":4.0},{"t":4123,"v":4.2},{"t":4138,"v":4.1},{"t":4153,"v":4.0},{"t":4168,"v":4.2},{"t":4183,"v":4.1},{"t":4198,"v":4.0},
{"t":4213,"v":4.2},{"t":4228,"v":4.1},{"t":4243,"v":4.0},{"t":4258,"v":4.2},{"t":4273,"v":4.0},{"t":4288,"v":4.1},{"t":4303,"v":4.3},{"t":4318,"v":4.0},{"t":4333,"v":4.2},{"t":4348,"v":4.1}
],
"c": [
{"t":0,"v":5.0},{"t":15,"v":4.1},{"t":30,"v":5.3},{"t":45,"v":3.8},{"t":60,"v":4.6},{"t":75,"v":6.6},{"t":90,"v":4.0},{"t":105,"v":5.2},{"t":120,"v":3.7},{"t":135,"v":4.8},
{"t":150,"v":4.2},{"t":165,"v":5.4},{"t":180,"v":3.9},{"t":195,"v":4.5},{"t":210,"v":3.6},{"t":225,"v":5.0},{"t":240,"v":4.3},{"t":255,"v":3.8},{"t":270,"v":5.5},{"t":285,"v":4.1},
{"t":300,"v":3.7},{"t":315,"v":4.9},{"t":330,"v":4.2},{"t":345,"v":5.8},{"t":360,"v":3.9},{"t":375,"v":4.4},{"t":390,"v":3.6},{"t":405,"v":5.1},{"t":420,"v":4.0},{"t":435,"v":4.6},
{"t":450,"v":3.8},{"t":465,"v":5.3},{"t":480,"v":4.2},{"t":495,"v":3.7},{"t":510,"v":4.8},{"t":525,"v":4.0},{"t":540,"v":5.2},{"t":555,"v":3.9},{"t":570,"v":4.5},{"t":585,"v":3.7},
{"t":600,"v":4.1},{"t":615,"v":3.8},{"t":630,"v":4.3},{"t":645,"v":4.6},
{"t":660,"v":4.9},{"t":675,"v":5.4},{"t":690,"v":4.8},{"t":705,"v":5.7},{"t":720,"v":5.2},{"t":735,"v":5.5},{"t":750,"v":4.9},{"t":765,"v":5.8},{"t":780,"v":5.0},{"t":795,"v":4.6},
{"t":805,"v":4.7},{"t":811,"v":10.0},{"t":818,"v":11.0},{"t":825,"v":13.6},{"t":840,"v":12.6},{"t":855,"v":14.0},{"t":870,"v":13.0},{"t":885,"v":14.2},{"t":900,"v":13.4},{"t":915,"v":14.6},{"t":930,"v":13.9},{"t":945,"v":15.0},{"t":960,"v":14.3},{"t":975,"v":15.3},{"t":990,"v":15.0},{"t":1000,"v":16.0},{"t":1009,"v":17.7},{"t":1015,"v":15.5},{"t":1020,"v":5.2},{"t":1030,"v":4.8},{"t":1036,"v":15.0},{"t":1042,"v":4.6},{"t":1050,"v":4.0},{"t":1054,"v":13.5},{"t":1058,"v":4.3},{"t":1070,"v":3.9},
{"t":1080,"v":4.5},{"t":1095,"v":3.6},{"t":1110,"v":4.2},{"t":1125,"v":3.8},{"t":1140,"v":5.0},{"t":1155,"v":3.7},{"t":1170,"v":4.4},{"t":1185,"v":3.9},{"t":1200,"v":4.8},{"t":1215,"v":3.6},{"t":1230,"v":4.3},
{"t":1238,"v":4.2},{"t":1243,"v":13.3},{"t":1250,"v":12.6},{"t":1256,"v":4.4},
{"t":1270,"v":3.9},{"t":1285,"v":4.7},{"t":1300,"v":3.7},{"t":1315,"v":5.2},{"t":1330,"v":4.0},{"t":1345,"v":3.8},{"t":1360,"v":4.5},{"t":1375,"v":3.6},{"t":1390,"v":5.4},{"t":1405,"v":3.9},{"t":1420,"v":4.2},{"t":1435,"v":3.7},{"t":1450,"v":4.8},{"t":1465,"v":4.0},{"t":1480,"v":3.6},{"t":1495,"v":5.1},{"t":1510,"v":3.8},{"t":1525,"v":4.4},{"t":1540,"v":3.7},{"t":1555,"v":5.0},{"t":1570,"v":4.1},{"t":1585,"v":3.6},{"t":1600,"v":4.6},{"t":1615,"v":3.9},{"t":1630,"v":4.3},
{"t":1637,"v":16.3},{"t":1645,"v":15.6},{"t":1655,"v":15.0},{"t":1665,"v":15.3},{"t":1675,"v":14.8},{"t":1684,"v":15.1},{"t":1688,"v":4.5},{"t":1700,"v":4.0},{"t":1712,"v":4.3},{"t":1720,"v":4.5},{"t":1723,"v":15.5},{"t":1730,"v":14.8},{"t":1738,"v":14.3},{"t":1742,"v":4.4},{"t":1755,"v":3.9},
{"t":1770,"v":4.6},{"t":1785,"v":3.8},{"t":1800,"v":5.0},{"t":1815,"v":4.1},{"t":1830,"v":3.7},{"t":1845,"v":4.5},{"t":1860,"v":3.9},{"t":1875,"v":4.2},
{"t":1880,"v":4.0},{"t":1884,"v":12.5},{"t":1888,"v":4.3},
{"t":1900,"v":3.8},{"t":1915,"v":4.6},{"t":1930,"v":3.9},{"t":1945,"v":4.2},{"t":1960,"v":3.7},{"t":1975,"v":4.8},{"t":1990,"v":4.0},{"t":2005,"v":3.6},{"t":2020,"v":4.4},{"t":2035,"v":3.9},{"t":2050,"v":4.1},{"t":2065,"v":3.7},
{"t":2076,"v":4.0},{"t":2080,"v":12.2},{"t":2085,"v":4.4},
{"t":2095,"v":3.9},{"t":2110,"v":4.6},{"t":2125,"v":3.7},{"t":2140,"v":4.3},{"t":2155,"v":3.6},{"t":2170,"v":5.4},{"t":2185,"v":3.8},{"t":2200,"v":4.5},{"t":2215,"v":4.0},{"t":2230,"v":3.7},{"t":2245,"v":4.9},{"t":2260,"v":3.9},{"t":2275,"v":4.3},{"t":2290,"v":3.6},{"t":2305,"v":4.7},{"t":2320,"v":4.0},{"t":2335,"v":3.8},{"t":2350,"v":4.4},{"t":2365,"v":3.6},{"t":2380,"v":5.0},{"t":2395,"v":3.9},{"t":2410,"v":4.2},{"t":2425,"v":3.8},
{"t":2432,"v":10.4},{"t":2440,"v":4.1},{"t":2455,"v":3.8},{"t":2470,"v":4.5},{"t":2485,"v":3.9},{"t":2498,"v":4.3},
{"t":2503,"v":4.6},{"t":2507,"v":10.0},{"t":2512,"v":13.0},{"t":2517,"v":15.8},{"t":2522,"v":13.5},{"t":2527,"v":15.9},{"t":2532,"v":14.2},{"t":2537,"v":15.5},{"t":2542,"v":13.6},{"t":2547,"v":15.0},{"t":2552,"v":14.0},{"t":2557,"v":13.2},{"t":2562,"v":11.8},{"t":2567,"v":10.6},{"t":2572,"v":5.0},{"t":2580,"v":4.2},
{"t":2590,"v":4.4},{"t":2605,"v":3.8},{"t":2620,"v":5.0},{"t":2635,"v":3.9},{"t":2650,"v":6.3},{"t":2665,"v":4.1},{"t":2680,"v":3.7},{"t":2695,"v":6.0},{"t":2710,"v":3.8},{"t":2725,"v":4.3},{"t":2740,"v":4.0},{"t":2755,"v":3.6},{"t":2770,"v":4.8},{"t":2785,"v":3.9},{"t":2800,"v":4.2},{"t":2815,"v":4.1},{"t":2830,"v":4.7},{"t":2845,"v":3.8},{"t":2860,"v":4.3},{"t":2875,"v":3.7},{"t":2890,"v":4.5},{"t":2905,"v":3.9},{"t":2920,"v":4.0},
{"t":2926,"v":9.4},{"t":2935,"v":4.2},{"t":2950,"v":3.8},{"t":2965,"v":4.4},{"t":2978,"v":3.9},
{"t":2983,"v":4.5},{"t":2986,"v":15.8},{"t":2992,"v":15.0},{"t":2998,"v":14.5},{"t":3004,"v":15.2},{"t":3010,"v":13.6},{"t":3015,"v":14.0},{"t":3020,"v":12.0},{"t":3025,"v":12.3},{"t":3028,"v":4.6},{"t":3038,"v":4.0},
{"t":3050,"v":4.5},{"t":3065,"v":3.7},{"t":3080,"v":4.2},{"t":3095,"v":3.9},{"t":3110,"v":4.4},
{"t":3130,"v":7.6},{"t":3140,"v":4.0},{"t":3155,"v":4.6},{"t":3170,"v":3.8},
{"t":3185,"v":4.3},{"t":3200,"v":3.9},{"t":3215,"v":4.5},{"t":3230,"v":3.7},{"t":3245,"v":4.6},{"t":3260,"v":4.0},{"t":3275,"v":3.8},{"t":3290,"v":4.4},{"t":3305,"v":3.6},{"t":3320,"v":4.2},{"t":3335,"v":3.8},{"t":3350,"v":4.5},{"t":3365,"v":3.7},
{"t":3378,"v":3.5},{"t":3383,"v":11.9},{"t":3390,"v":11.6},{"t":3397,"v":11.8},{"t":3404,"v":11.3},{"t":3409,"v":11.5},{"t":3412,"v":3.6},{"t":3425,"v":3.9},{"t":3440,"v":4.6},{"t":3455,"v":3.8},{"t":3470,"v":5.0},{"t":3485,"v":4.2},{"t":3500,"v":3.9},{"t":3508,"v":4.4},
{"t":3513,"v":15.3},{"t":3520,"v":14.2},{"t":3527,"v":15.0},{"t":3534,"v":13.4},{"t":3541,"v":14.1},{"t":3548,"v":12.2},{"t":3555,"v":12.6},{"t":3560,"v":4.5},{"t":3570,"v":3.8},
{"t":3585,"v":4.7},{"t":3600,"v":4.0},{"t":3615,"v":5.5},{"t":3630,"v":3.9},{"t":3645,"v":4.6},{"t":3660,"v":5.3},{"t":3675,"v":4.1},{"t":3690,"v":4.9},{"t":3705,"v":3.8},{"t":3720,"v":4.4},{"t":3735,"v":4.0},{"t":3750,"v":4.6},{"t":3765,"v":3.7},{"t":3780,"v":4.2},{"t":3795,"v":3.9},{"t":3810,"v":4.8},{"t":3825,"v":3.6},{"t":3840,"v":4.4},{"t":3855,"v":3.9},{"t":3870,"v":4.2},{"t":3885,"v":3.7},{"t":3900,"v":4.5},{"t":3915,"v":3.8},{"t":3930,"v":4.3},{"t":3945,"v":3.9},
{"t":3964,"v":9.9},{"t":3975,"v":4.2},
{"t":3990,"v":4.8},{"t":4005,"v":3.7},{"t":4020,"v":5.2},{"t":4035,"v":4.0},{"t":4050,"v":5.5},{"t":4065,"v":3.6},{"t":4080,"v":4.7},{"t":4095,"v":5.3},{"t":4110,"v":3.8},{"t":4125,"v":4.4},
{"t":4140,"v":5.6},{"t":4155,"v":3.7},{"t":4170,"v":4.9},{"t":4185,"v":4.1},{"t":4200,"v":5.4},{"t":4215,"v":3.6},{"t":4230,"v":4.6},{"t":4245,"v":5.8},{"t":4260,"v":3.9},{"t":4275,"v":4.3},
{"t":4290,"v":5.2},{"t":4305,"v":3.6},{"t":4320,"v":4.8},{"t":4335,"v":5.7},{"t":4350,"v":3.8},{"t":4365,"v":4.5},{"t":4380,"v":5.0},{"t":4395,"v":3.7},{"t":4410,"v":4.4},{"t":4425,"v":5.3},
{"t":4440,"v":3.8},{"t":4455,"v":4.6},{"t":4470,"v":4.0},{"t":4485,"v":4.3},{"t":4500,"v":3.9},
{"t":8,"v":4.4},{"t":23,"v":4.7},{"t":38,"v":4.2},{"t":53,"v":4.9},{"t":68,"v":4.0},{"t":83,"v":4.5},{"t":98,"v":4.3},{"t":113,"v":4.1},{"t":128,"v":4.6},{"t":143,"v":4.0},
{"t":158,"v":4.4},{"t":173,"v":4.2},{"t":188,"v":4.8},{"t":203,"v":4.0},{"t":218,"v":4.3},{"t":233,"v":4.6},{"t":248,"v":4.1},{"t":263,"v":4.4},{"t":278,"v":4.2},{"t":293,"v":4.7},
{"t":308,"v":4.3},{"t":323,"v":4.0},{"t":338,"v":4.5},{"t":353,"v":4.2},{"t":368,"v":4.6},{"t":383,"v":4.1},{"t":398,"v":4.4},{"t":413,"v":4.3},{"t":428,"v":4.0},{"t":443,"v":4.5},
{"t":458,"v":4.2},{"t":473,"v":4.4},{"t":488,"v":4.6},{"t":503,"v":4.1},{"t":518,"v":4.3},{"t":533,"v":4.5},{"t":548,"v":4.2},{"t":563,"v":4.0},{"t":578,"v":4.4},{"t":593,"v":4.2},
{"t":608,"v":4.0},{"t":623,"v":4.1},{"t":638,"v":4.3},{"t":653,"v":4.7},{"t":668,"v":5.1},{"t":683,"v":5.0},{"t":698,"v":5.3},{"t":713,"v":5.0},{"t":728,"v":5.2},{"t":743,"v":5.3},
{"t":758,"v":5.1},{"t":773,"v":5.4},{"t":788,"v":4.8},
{"t":1073,"v":4.1},{"t":1088,"v":4.0},{"t":1103,"v":4.4},{"t":1118,"v":4.1},{"t":1133,"v":4.3},{"t":1148,"v":4.0},{"t":1163,"v":4.2},{"t":1178,"v":4.4},{"t":1193,"v":4.1},{"t":1208,"v":4.2},{"t":1223,"v":4.0},
{"t":1263,"v":4.2},{"t":1278,"v":4.1},{"t":1293,"v":4.3},{"t":1308,"v":4.4},{"t":1323,"v":4.1},{"t":1338,"v":4.3},{"t":1353,"v":4.0},{"t":1368,"v":4.2},{"t":1383,"v":4.4},{"t":1398,"v":4.1},{"t":1413,"v":4.0},{"t":1428,"v":4.3},{"t":1443,"v":4.2},{"t":1458,"v":4.1},{"t":1473,"v":4.4},{"t":1488,"v":4.2},{"t":1503,"v":4.0},{"t":1518,"v":4.3},{"t":1533,"v":4.1},{"t":1548,"v":4.2},{"t":1563,"v":4.4},{"t":1578,"v":4.0},{"t":1593,"v":4.2},{"t":1608,"v":4.3},{"t":1623,"v":4.1},
{"t":1763,"v":4.2},{"t":1778,"v":4.1},{"t":1793,"v":4.3},{"t":1808,"v":4.4},{"t":1823,"v":4.0},{"t":1838,"v":4.2},{"t":1853,"v":4.1},{"t":1868,"v":4.0},
{"t":1893,"v":4.1},{"t":1908,"v":4.2},{"t":1923,"v":4.3},{"t":1938,"v":4.0},{"t":1953,"v":4.1},{"t":1968,"v":4.3},{"t":1983,"v":4.4},{"t":1998,"v":4.1},{"t":2013,"v":4.0},{"t":2028,"v":4.2},{"t":2043,"v":4.1},{"t":2058,"v":4.3},
{"t":2088,"v":4.2},{"t":2103,"v":4.1},{"t":2118,"v":4.2},{"t":2133,"v":4.0},{"t":2148,"v":4.3},{"t":2163,"v":4.1},{"t":2178,"v":4.4},{"t":2193,"v":4.0},{"t":2208,"v":4.2},{"t":2223,"v":4.3},{"t":2238,"v":4.1},{"t":2253,"v":4.2},{"t":2268,"v":4.0},{"t":2283,"v":4.3},{"t":2298,"v":4.1},{"t":2313,"v":4.2},{"t":2328,"v":4.4},{"t":2343,"v":4.1},{"t":2358,"v":4.0},{"t":2373,"v":4.3},{"t":2388,"v":4.2},{"t":2403,"v":4.1},{"t":2418,"v":4.0},
{"t":2448,"v":4.0},{"t":2463,"v":4.2},{"t":2478,"v":4.1},{"t":2493,"v":4.0},
{"t":2583,"v":4.1},{"t":2598,"v":4.2},{"t":2613,"v":4.0},{"t":2628,"v":4.3},{"t":2643,"v":4.1},{"t":2658,"v":4.2},{"t":2673,"v":4.0},{"t":2688,"v":4.3},{"t":2703,"v":4.1},{"t":2718,"v":4.0},{"t":2733,"v":4.2},{"t":2748,"v":4.1},{"t":2763,"v":4.3},{"t":2778,"v":4.0},{"t":2793,"v":4.1},{"t":2808,"v":4.2},{"t":2823,"v":4.0},{"t":2838,"v":4.3},{"t":2853,"v":4.1},{"t":2868,"v":4.2},{"t":2883,"v":4.0},{"t":2898,"v":4.1},{"t":2913,"v":4.2},
{"t":3043,"v":4.2},{"t":3058,"v":4.0},{"t":3073,"v":4.1},{"t":3088,"v":4.3},{"t":3103,"v":4.1},
{"t":3178,"v":4.1},{"t":3193,"v":4.2},{"t":3208,"v":4.0},{"t":3223,"v":4.2},{"t":3238,"v":4.1},{"t":3253,"v":4.3},{"t":3268,"v":4.0},{"t":3283,"v":4.1},{"t":3298,"v":4.2},{"t":3313,"v":4.0},{"t":3328,"v":4.1},{"t":3343,"v":4.2},{"t":3358,"v":4.0},
{"t":3418,"v":4.1},{"t":3433,"v":4.2},{"t":3448,"v":4.0},{"t":3463,"v":4.3},{"t":3478,"v":4.1},{"t":3493,"v":4.2},
{"t":3578,"v":4.2},{"t":3593,"v":4.3},{"t":3608,"v":4.1},{"t":3623,"v":4.4},{"t":3638,"v":4.2},{"t":3653,"v":4.0},{"t":3668,"v":4.3},{"t":3683,"v":4.1},{"t":3698,"v":4.2},{"t":3713,"v":4.0},{"t":3728,"v":4.3},{"t":3743,"v":4.1},{"t":3758,"v":4.2},{"t":3773,"v":4.0},{"t":3788,"v":4.1},{"t":3803,"v":4.3},{"t":3818,"v":4.1},{"t":3833,"v":4.0},{"t":3848,"v":4.2},{"t":3863,"v":4.1},{"t":3878,"v":4.3},{"t":3893,"v":4.0},{"t":3908,"v":4.2},{"t":3923,"v":4.1},{"t":3938,"v":4.0},
{"t":3983,"v":4.2},{"t":3998,"v":4.3},{"t":4013,"v":4.1},{"t":4028,"v":4.4},{"t":4043,"v":4.2},{"t":4058,"v":4.5},{"t":4073,"v":4.1},{"t":4088,"v":4.3},{"t":4103,"v":4.4},{"t":4118,"v":4.1},
{"t":4133,"v":4.6},{"t":4148,"v":4.2},{"t":4163,"v":4.3},{"t":4178,"v":4.0},{"t":4193,"v":4.5},{"t":4208,"v":4.2},{"t":4223,"v":4.1},{"t":4238,"v":4.7},{"t":4253,"v":4.2},{"t":4268,"v":4.0},
{"t":4283,"v":4.4},{"t":4298,"v":4.2},{"t":4313,"v":4.3},{"t":4328,"v":4.6},{"t":4343,"v":4.1},{"t":4358,"v":4.3},{"t":4373,"v":4.4},{"t":4388,"v":4.1},{"t":4403,"v":4.2},{"t":4418,"v":4.5},
{"t":4433,"v":4.2},{"t":4448,"v":4.3},{"t":4463,"v":4.1},{"t":4478,"v":4.2},{"t":4493,"v":4.0}
]
},
"vconcat": [
{
 "data": {"name": "a"},
 "width": 633, "height": 70,
 "title": {"text": "(a) 60 perceptrons"},
 "mark": {"type": "line", "color": "#433f7a", "strokeWidth": 1.1},
 "encoding": {
  "order": {"field": "t", "type": "quantitative"},
  "x": {"field": "t", "type": "quantitative", "scale": {"domain": [-225, 4725], "nice": false, "zero": false},
   "axis": {"title": "Time sample", "format": "d", "values": [-200,0,200,400,600,800,1000,1200,1400,1600,1800,2000,2200,2400,2600,2800,3000,3200,3400,3600,3800,4000,4200,4400,4600],
    "labelExpr": "datum.value % 1000 === 0 ? datum.label : ''",
    "tickSize": {"condition": {"test": "datum.value % 1000 === 0", "value": 6}, "value": 4},
    "gridOpacity": {"condition": {"test": "datum.value % 1000 === 0", "value": 1}, "value": 0}}},
  "y": {"field": "v", "type": "quantitative", "scale": {"domain": [1.1, 18.8], "nice": false, "zero": false},
   "axis": {"title": "Amplitude", "values": [2,3,4,5,6,7,8,9,10,11,12,13,14,15,16,17,18],
    "labelExpr": "datum.value % 5 === 0 ? datum.label : ''",
    "tickSize": {"condition": {"test": "datum.value % 5 === 0", "value": 6}, "value": 4},
    "gridOpacity": {"condition": {"test": "datum.value % 5 === 0", "value": 1}, "value": 0}}}
 }
},
{
 "data": {"name": "b"},
 "width": 633, "height": 70,
 "title": {"text": "(b) 120 perceptrons"},
 "mark": {"type": "line", "color": "#e38a3d", "strokeWidth": 1.1},
 "encoding": {
  "order": {"field": "t", "type": "quantitative"},
  "x": {"field": "t", "type": "quantitative", "scale": {"domain": [-225, 4725], "nice": false, "zero": false},
   "axis": {"title": "Time sample", "format": "d", "values": [-200,0,200,400,600,800,1000,1200,1400,1600,1800,2000,2200,2400,2600,2800,3000,3200,3400,3600,3800,4000,4200,4400,4600],
    "labelExpr": "datum.value % 1000 === 0 ? datum.label : ''",
    "tickSize": {"condition": {"test": "datum.value % 1000 === 0", "value": 6}, "value": 4},
    "gridOpacity": {"condition": {"test": "datum.value % 1000 === 0", "value": 1}, "value": 0}}},
  "y": {"field": "v", "type": "quantitative", "scale": {"domain": [1.05, 17.3], "nice": false, "zero": false},
   "axis": {"title": "Amplitude", "values": [2,3,4,5,6,7,8,9,10,11,12,13,14,15,16,17],
    "labelExpr": "datum.value % 5 === 0 ? datum.label : ''",
    "tickSize": {"condition": {"test": "datum.value % 5 === 0", "value": 6}, "value": 4},
    "gridOpacity": {"condition": {"test": "datum.value % 5 === 0", "value": 1}, "value": 0}}}
 }
},
{
 "data": {"name": "c"},
 "width": 633, "height": 70,
 "title": {"text": "(c) 255 perceptrons"},
 "mark": {"type": "line", "color": "#1a7f8e", "strokeWidth": 1.1},
 "encoding": {
  "order": {"field": "t", "type": "quantitative"},
  "x": {"field": "t", "type": "quantitative", "scale": {"domain": [-225, 4725], "nice": false, "zero": false},
   "axis": {"title": "Time sample", "format": "d", "values": [-200,0,200,400,600,800,1000,1200,1400,1600,1800,2000,2200,2400,2600,2800,3000,3200,3400,3600,3800,4000,4200,4400,4600],
    "labelExpr": "datum.value % 1000 === 0 ? datum.label : ''",
    "tickSize": {"condition": {"test": "datum.value % 1000 === 0", "value": 6}, "value": 4},
    "gridOpacity": {"condition": {"test": "datum.value % 1000 === 0", "value": 1}, "value": 0}}},
  "y": {"field": "v", "type": "quantitative", "scale": {"domain": [2.7, 18.4], "nice": false, "zero": false},
   "axis": {"title": "Amplitude", "values": [3,4,5,6,7,8,9,10,11,12,13,14,15,16,17,18],
    "labelExpr": "datum.value % 5 === 0 ? datum.label : ''",
    "tickSize": {"condition": {"test": "datum.value % 5 === 0", "value": 6}, "value": 4},
    "gridOpacity": {"condition": {"test": "datum.value % 5 === 0", "value": 1}, "value": 0}}}
 }
}
]
}
